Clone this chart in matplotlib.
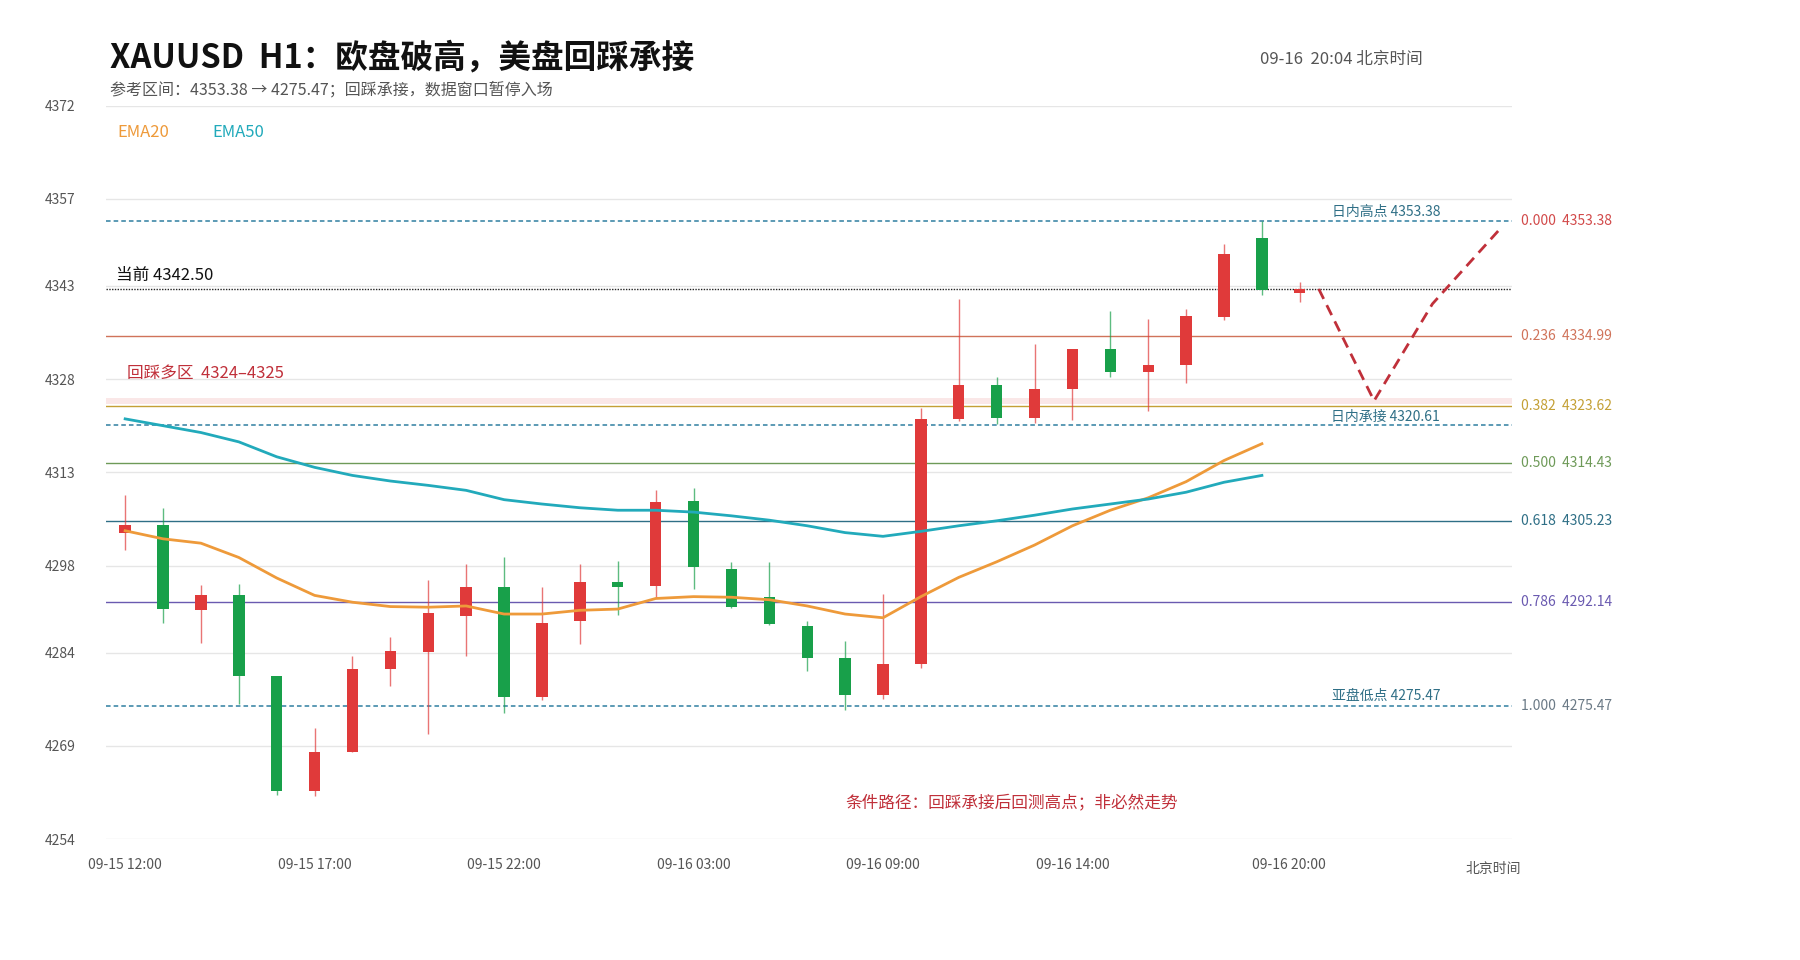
import matplotlib
matplotlib.use("Agg")
import matplotlib.pyplot as plt
import numpy as np

plt.rcParams["font.family"] = ["Noto Sans CJK SC", "DejaVu Sans"]

# 小时K线 (北京时间) — 红涨绿跌
opens = [4303.3, 4304.5, 4290.8, 4293.2, 4280.2, 4261.8, 4268.0, 4281.3, 4284.1, 4289.9,
         4294.5, 4276.9, 4289.1, 4295.3, 4294.7, 4308.4, 4297.5, 4292.9, 4288.2, 4283.2,
         4277.1, 4282.1, 4321.5, 4327.0, 4321.8, 4326.4, 4332.8, 4329.2, 4330.2, 4338.0,
         4350.7, 4341.8]
closes = [4304.5, 4291.0, 4293.2, 4280.2, 4261.8, 4268.0, 4281.3, 4284.3, 4290.4, 4294.5,
          4276.9, 4288.8, 4295.3, 4294.5, 4308.3, 4297.7, 4291.4, 4288.6, 4283.2, 4277.1,
          4282.1, 4321.5, 4327.0, 4321.8, 4326.4, 4332.9, 4329.2, 4330.2, 4338.1, 4348.1,
          4342.3, 4342.5]
highs = [4309.4, 4307.3, 4294.9, 4295.1, 4280.2, 4271.9, 4283.5, 4286.5, 4295.6, 4298.2,
         4299.3, 4294.5, 4298.2, 4298.8, 4310.1, 4310.5, 4298.6, 4298.6, 4289.1, 4285.9,
         4293.4, 4323.3, 4340.9, 4328.4, 4333.7, 4332.9, 4338.9, 4337.6, 4339.2, 4349.7,
         4353.38, 4343.7]
lows = [4300.5, 4288.8, 4285.6, 4275.7, 4261.1, 4261.0, 4268.0, 4278.7, 4270.9, 4283.4,
        4274.3, 4276.3, 4285.4, 4290.1, 4292.7, 4294.3, 4291.2, 4288.4, 4281.0, 4274.8,
        4276.6, 4281.5, 4321.3, 4320.7, 4321.0, 4321.4, 4328.4, 4322.9, 4327.4, 4337.5,
        4341.5, 4340.4]
ema20 = [4303.6, 4302.3, 4301.6, 4299.3, 4296.0, 4293.2, 4292.1, 4291.4, 4291.3, 4291.5,
         4290.2, 4290.2, 4290.8, 4291.0, 4292.7, 4293.0, 4292.9, 4292.5, 4291.5, 4290.2,
         4289.6, 4293.0, 4296.1, 4298.6, 4301.3, 4304.4, 4306.9, 4308.9, 4311.5, 4314.9,
         4317.6]
ema50 = [4321.6, 4320.5, 4319.4, 4317.9, 4315.5, 4313.8, 4312.5, 4311.6, 4310.9, 4310.1,
         4308.6, 4307.9, 4307.3, 4306.9, 4306.9, 4306.6, 4306.0, 4305.3, 4304.4, 4303.3,
         4302.7, 4303.5, 4304.4, 4305.2, 4306.1, 4307.1, 4307.9, 4308.7, 4309.8, 4311.4,
         4312.5]
tick_idx = [0, 5, 10, 15, 20, 25, 30.7]
tick_labels = ["09-15 12:00", "09-15 17:00", "09-15 22:00", "09-16 03:00",
               "09-16 09:00", "09-16 14:00", "09-16 20:00"]
y_ticks = [4254, 4269, 4284, 4298, 4313, 4328, 4343, 4357, 4372]

# 斐波那契回撤 (4353.38 -> 4275.47)
fib_ratios = ["0.000", "0.236", "0.382", "0.500", "0.618", "0.786", "1.000"]
fib_prices = [4353.38, 4334.99, 4323.62, 4314.43, 4305.23, 4292.14, 4275.47]
fib_colors = ["#d24a4a", "#d0735a", "#c4a035", "#6e9a58", "#2f6f86", "#6a5ab0", "#6b7a86"]

current = 4342.50
support = 4320.61
zone = (4324.0, 4325.0)
path_x = [31.5, 32.96, 34.5, 36.26]
path_y = [4342.5, 4324.5, 4340.1, 4352.0]

UP, DOWN = "#e03a3a", "#18a04a"
fig = plt.figure(figsize=(18, 9.6), dpi=100)
ax = fig.add_axes([0.059, 0.126, 0.781, 0.764])
ax.set_xlim(-0.5, 36.6)
ax.set_ylim(4254, 4372)

for y in y_ticks:
    ax.axhline(y, color="#e6e6e6", lw=1, zorder=0)

ax.axhspan(*zone, color="#f8d8d8", alpha=0.6, lw=0, zorder=0.5)
for p, c in zip(fib_prices, fib_colors):
    if p in (4353.38, 4275.47):
        continue
    ax.axhline(p, color=c, lw=1, zorder=1)

for p in (4353.38, 4275.47, support):
    ax.axhline(p, color="#2f7fa0", lw=1.1, ls=(0, (3, 2)), zorder=1)
ax.axhline(current, color="#222222", lw=1, ls=(0, (1, 1)), zorder=1)

for i, (o, c, h, l) in enumerate(zip(opens, closes, highs, lows)):
    col = UP if c >= o else DOWN
    ax.vlines(i, l, h, color=col, lw=1, alpha=0.7, zorder=2)
    ax.bar(i, max(abs(c - o), 0.5), bottom=min(o, c), width=0.3, color=col, zorder=3)

x = np.arange(len(ema20))
ax.plot(x, ema20, color="#ee9a3a", lw=2, zorder=4)
ax.plot(x, ema50, color="#22aabb", lw=2, zorder=4)
ax.plot(path_x, path_y, color="#c0303a", lw=2, ls=(0, (4, 2.5)), zorder=4)

for s in ax.spines.values():
    s.set_visible(False)
ax.tick_params(length=0, labelsize=10, colors="#555555")
ax.set_yticks(y_ticks)
ax.set_xticks(tick_idx)
ax.set_xticklabels(tick_labels)
ax.tick_params(axis="x", pad=14)
ax.tick_params(axis="y", pad=22)
ax.text(36.1, 4254 - 4.8, "北京时间", fontsize=10, color="#555555", ha="center", va="center")

# 注记
ax.text(-0.25, current + 0.8, "当前 4342.50", fontsize=12, color="#111111", va="bottom")
ax.text(0.05, 4327.6, "回踩多区  4324–4325", fontsize=12, color="#c0303a", va="bottom")
ax.text(34.7, 4353.38 + 0.4, "日内高点 4353.38", fontsize=10, color="#2f6f86", ha="right", va="bottom")
ax.text(34.7, support + 0.2, "日内承接 4320.61", fontsize=10, color="#2f6f86", ha="right", va="bottom")
ax.text(34.7, 4275.47 + 0.4, "亚盘低点 4275.47", fontsize=10, color="#2f6f86", ha="right", va="bottom")
ax.text(23.4, 4259.7, "条件路径：回踩承接后回测高点；非必然走势", fontsize=12,
        color="#c0303a", ha="center", va="center")
for r, p, c in zip(fib_ratios, fib_prices, fib_colors):
    ax.text(36.85, p, f"{r}  {p:.2f}", fontsize=10, color=c, va="center", clip_on=False)
ax.text(-0.2, 4367.7, "EMA20", fontsize=12, color="#ee9a3a", va="center")
ax.text(2.3, 4367.7, "EMA50", fontsize=12, color="#22aabb", va="center")

fig.text(0.061, 0.94, "XAUUSD  H1：欧盘破高，美盘回踩承接", fontsize=23.5, fontweight="bold",
         color="#111111", va="center")
fig.text(0.061, 0.906, "参考区间：4353.38 → 4275.47；回踩承接，数据窗口暂停入场", fontsize=11.5,
         color="#555555", va="center")
fig.text(0.70, 0.938, "09-16  20:04 北京时间", fontsize=12, color="#555555", va="center")

fig.savefig("out.png", dpi=100, facecolor="white")
